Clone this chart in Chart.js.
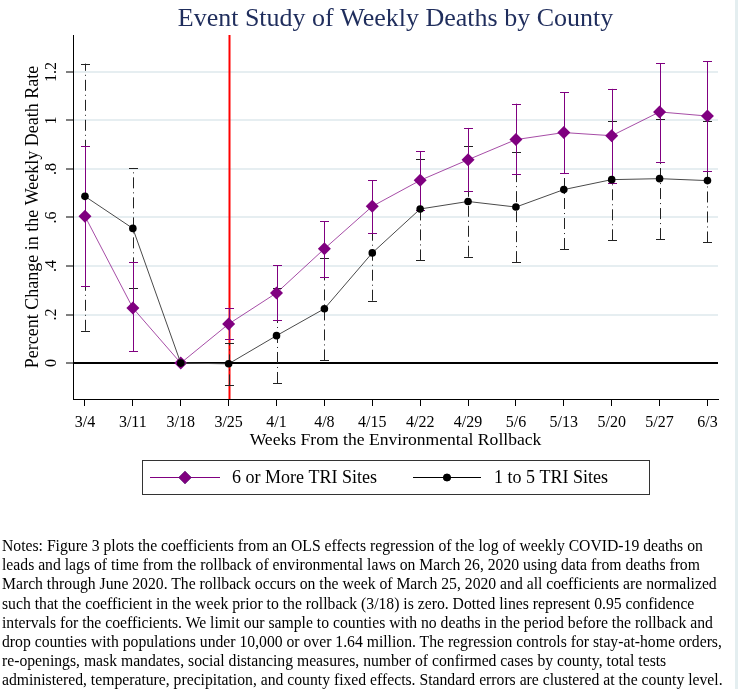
<!DOCTYPE html>
<html>
<head>
<meta charset="utf-8">
<script src="https://cdn.jsdelivr.net/npm/chart.js@4.4.1/dist/chart.umd.min.js"></script>
<style>
    body { margin: 0; background: #fff; }
    #wrap { position: relative; width: 738px; height: 689px; overflow: hidden; }
    #chart { position: absolute; left: 0; top: 0; }
    #notes {
        position: absolute; left: 2px; top: 536px;
        font-family: "Liberation Serif", serif; font-size: 15.7px; line-height: 19.2px;
        color: #000; white-space: nowrap;
    }
    #edge { position: absolute; left: 735px; top: 0; width: 3px; height: 689px; background: #e4eef0; }
</style>
</head>
<body>
<div id="wrap">
    <canvas id="chart" width="738" height="689"></canvas>
    <div id="notes">Notes: Figure 3 plots the coefficients from an OLS effects regression of the log of weekly COVID-19 deaths on<br>leads and lags of time from the rollback of environmental laws on March 26, 2020 using data from deaths from<br>March through June 2020. The rollback occurs on the week of March 25, 2020 and all coefficients are normalized<br>such that the coefficient in the week prior to the rollback (3/18) is zero. Dotted lines represent 0.95 confidence<br>intervals for the coefficients. We limit our sample to counties with no deaths in the period before the rollback and<br>drop counties with populations under 10,000 or over 1.64 million. The regression controls for stay-at-home orders,<br>re-openings, mask mandates, social distancing measures, number of confirmed cases by county, total tests<br>administered, temperature, precipitation, and county fixed effects. Standard errors are clustered at the county level.</div>
    <div id="edge"></div>
</div>
<script>
const weeks = ['3/4', '3/11', '3/18', '3/25', '4/1', '4/8', '4/15', '4/22', '4/29', '5/6', '5/13', '5/20', '5/27', '6/3']
const rollbackWeek = 3 // index of 3/25

// 6 or More TRI Sites
const manyCoef = [0.605, 0.227, 0, 0.161, 0.289, 0.471, 0.646, 0.753, 0.838, 0.921, 0.950, 0.937, 1.035, 1.018]
const manyLow  = [0.316, 0.048, null, 0.100, 0.176, 0.355, 0.536, 0.632, 0.710, 0.778, 0.783, 0.744, 0.830, 0.790]
const manyHigh = [0.893, 0.416, null, 0.225, 0.403, 0.585, 0.753, 0.874, 0.969, 1.069, 1.116, 1.130, 1.236, 1.244]

// 1 to 5 TRI Sites
const fewCoef = [0.687, 0.555, 0, -0.003, 0.113, 0.224, 0.454, 0.635, 0.666, 0.643, 0.715, 0.756, 0.760, 0.752]
const fewLow  = [0.133, 0.308, null, -0.092, -0.082, 0.011, 0.257, 0.423, 0.438, 0.416, 0.470, 0.506, 0.511, 0.497]
const fewHigh = [1.234, 0.804, null, 0.082, 0.308, 0.433, 0.651, 0.842, 0.895, 0.871, 0.955, 0.999, 1.007, 0.999]

const yTickValues = [0, 0.2, 0.4, 0.6, 0.8, 1, 1.2]
const yTickLabels = ['0', '.2', '.4', '.6', '.8', '1', '1.2']

const serif = '"Liberation Serif", "Times New Roman", serif'
const purple = '#800080'

const toPoints = arr => arr.map((v, i) => ({ x: i, y: v }))

// red rollback line + confidence interval caps, drawn under the series
const intervalPlugin = {
    id: 'intervals',
    beforeDatasetsDraw(chart) {
        const { ctx, chartArea, scales: { x, y } } = chart
        ctx.save()
        // rollback marker
        const rx = Math.round(x.getPixelForValue(rollbackWeek)) + 0.5
        ctx.strokeStyle = '#ff0000'
        ctx.lineWidth = 2
        ctx.beginPath()
        ctx.moveTo(rx, chartArea.top)
        ctx.lineTo(rx, chartArea.bottom)
        ctx.stroke()

        const drawBars = (low, high, color, dash) => {
            ctx.strokeStyle = color
            ctx.lineWidth = 1
            for (let i = 0; i < low.length; i++) {
                if (low[i] === null) continue
                const px = Math.round(x.getPixelForValue(i)) + 0.5
                const y0 = y.getPixelForValue(low[i])
                const y1 = y.getPixelForValue(high[i])
                ctx.setLineDash(dash)
                ctx.beginPath()
                ctx.moveTo(px, y0)
                ctx.lineTo(px, y1)
                ctx.stroke()
                ctx.setLineDash([])
                ctx.beginPath()
                ctx.moveTo(px - 4.5, Math.round(y0) + 0.5)
                ctx.lineTo(px + 4.5, Math.round(y0) + 0.5)
                ctx.moveTo(px - 4.5, Math.round(y1) + 0.5)
                ctx.lineTo(px + 4.5, Math.round(y1) + 0.5)
                ctx.stroke()
            }
        }
        drawBars(fewLow, fewHigh, '#222222', [11, 4, 1, 4])
        drawBars(manyLow, manyHigh, purple, [])
        ctx.restore()
    }
}

// title over the plot region and the boxed legend under the axis
const decorPlugin = {
    id: 'decor',
    afterDraw(chart) {
        const { ctx, chartArea } = chart
        ctx.save()
        ctx.fillStyle = '#1f2d5c'
        ctx.font = '26px ' + serif
        ctx.textAlign = 'center'
        ctx.textBaseline = 'alphabetic'
        ctx.fillText('Event Study of Weekly Deaths by County', (chartArea.left + chartArea.right) / 2, 26)

        // legend box
        ctx.strokeStyle = '#333'
        ctx.lineWidth = 1
        ctx.strokeRect(142.5, 460.5, 507, 34)
        const ly = 477.5
        const items = [
            { ds: chart.data.datasets[0], x0: 150, x1: 220, tx: 232 },
            { ds: chart.data.datasets[1], x0: 413, x1: 481, tx: 494 }
        ]
        for (const it of items) {
            ctx.strokeStyle = it.ds.legendLine
            ctx.lineWidth = 1
            ctx.beginPath()
            ctx.moveTo(it.x0, ly)
            ctx.lineTo(it.x1, ly)
            ctx.stroke()
            Chart.helpers.drawPoint(ctx, {
                pointStyle: it.ds.pointStyle,
                radius: it.ds.label.startsWith('6') ? 6.5 : 3.8,
                rotation: 0,
                borderWidth: 0
            }, (it.x0 + it.x1) / 2, ly)
            ctx.fillStyle = it.ds.pointBackgroundColor
            ctx.fill()
            ctx.fillStyle = '#000'
            ctx.font = '18px ' + serif
            ctx.textAlign = 'left'
            ctx.textBaseline = 'middle'
            ctx.fillText(it.ds.label, it.tx, ly + 1)
        }
        ctx.restore()
    }
}

const chart = new Chart(document.getElementById('chart'), {
    type: 'line',
    plugins: [intervalPlugin, decorPlugin],
    data: {
        datasets: [
            {
                label: '6 or More TRI Sites',
                data: toPoints(manyCoef),
                borderColor: 'rgba(128, 0, 128, 0.7)',
                legendLine: purple,
                borderWidth: 1,
                pointStyle: 'rectRot',
                pointRadius: 6.5,
                pointBackgroundColor: purple,
                pointBorderWidth: 0,
                order: 1
            },
            {
                label: '1 to 5 TRI Sites',
                data: toPoints(fewCoef),
                borderColor: '#4a4a4a',
                legendLine: '#000',
                borderWidth: 1,
                pointStyle: 'circle',
                pointRadius: 3.8,
                pointBackgroundColor: '#000',
                pointBorderWidth: 0,
                order: 0
            }
        ]
    },
    options: {
        responsive: false,
        animation: false,
        events: [],
        layout: {
            padding: { left: 0, right: 20, top: 35, bottom: 238 }
        },
        plugins: {
            legend: { display: false },
            title: { display: false },
            tooltip: { enabled: false }
        },
        scales: {
            x: {
                type: 'linear',
                min: -0.25,
                max: 13.22,
                afterBuildTicks: scale => {
                    scale.ticks = weeks.map((w, i) => ({ value: i }))
                },
                afterFit: scale => { scale.height = 52 },
                ticks: {
                    color: '#000',
                    font: { family: serif, size: 16 },
                    padding: 7,
                    maxRotation: 0,
                    autoSkip: false,
                    callback: value => weeks[value]
                },
                grid: {
                    drawOnChartArea: false,
                    drawTicks: true,
                    tickLength: 7,
                    tickColor: '#000'
                },
                border: { display: true, color: '#000', width: 1 },
                title: {
                    display: true,
                    text: 'Weeks From the Environmental Rollback',
                    color: '#000',
                    font: { family: serif, size: 17.6 },
                    padding: { top: 0, bottom: 0 }
                }
            },
            y: {
                min: -0.148,
                max: 1.352,
                afterBuildTicks: scale => {
                    scale.ticks = yTickValues.map(v => ({ value: v }))
                },
                afterFit: scale => { scale.width = 73 },
                ticks: {
                    color: '#000',
                    font: { family: serif, size: 16 },
                    padding: 4,
                    minRotation: 90,
                    maxRotation: 90,
                    crossAlign: 'center',
                    callback: value => yTickLabels[yTickValues.indexOf(value)]
                },
                grid: {
                    color: ctx => (ctx.tick && ctx.tick.value === 0) ? '#000' : '#e6eef1',
                    lineWidth: 2,
                    tickLength: 7,
                    tickColor: '#000',
                    tickWidth: 1
                },
                border: { display: true, color: '#000', width: 1 },
                title: {
                    display: true,
                    text: 'Percent Change in the Weekly Death Rate',
                    color: '#000',
                    font: { family: serif, size: 18 },
                    padding: { top: 22, bottom: 0 }
                }
            }
        }
    }
})
</script>
</body>
</html>
